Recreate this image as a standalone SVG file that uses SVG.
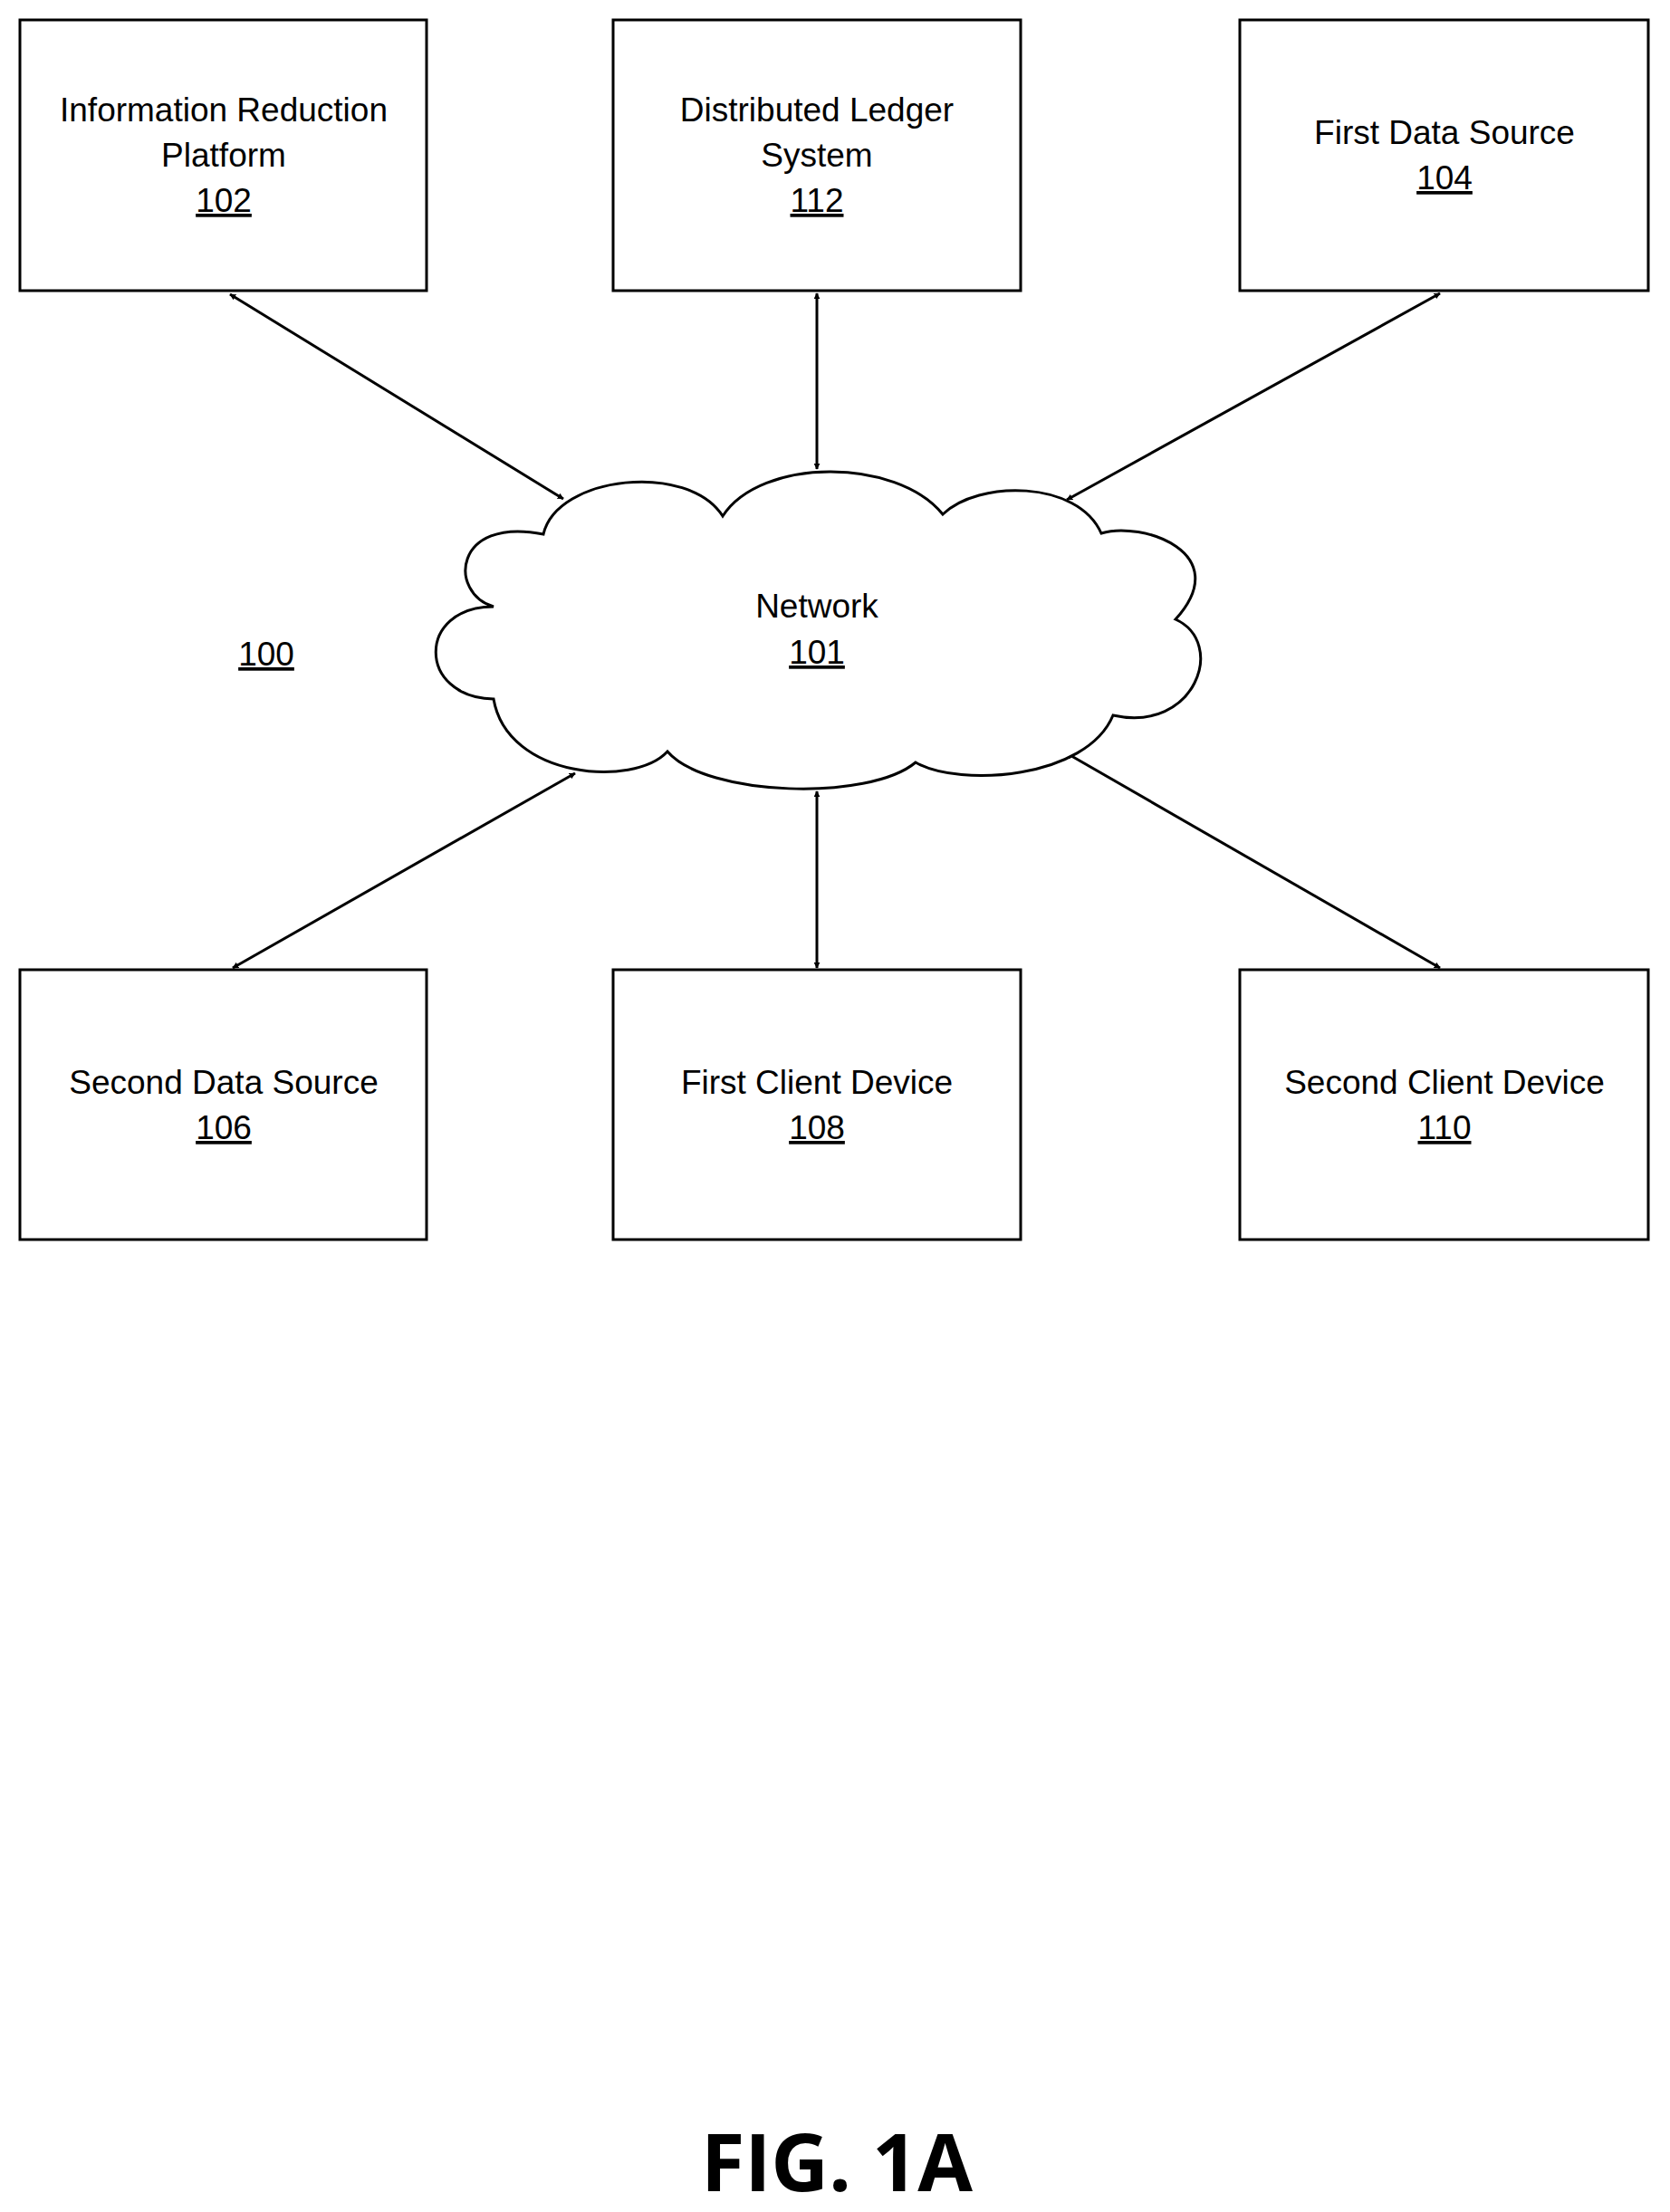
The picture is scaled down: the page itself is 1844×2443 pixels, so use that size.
<svg xmlns="http://www.w3.org/2000/svg" width="1844" height="2443" viewBox="0 0 1844 2443">
<style>
.box{fill:#fff;stroke:#000;stroke-width:3}
.t{font-family:"Liberation Sans",Arial,sans-serif;font-size:37px;text-anchor:middle;fill:#000}
.u{text-decoration:underline}
.c{stroke:#000;stroke-width:3;fill:none;marker-start:url(#a);marker-end:url(#a)}
</style>
<defs>
<marker id="a" viewBox="0 0 10 10" refX="9" refY="5" markerWidth="7" markerHeight="7" markerUnits="userSpaceOnUse" orient="auto-start-reverse">
<path d="M0,0 L10,5 L0,10 z" fill="#000"/>
</marker>
</defs>
<rect width="1844" height="2443" fill="#fff"/>
<g id="connectors">
<line class="c" x1="254" y1="325" x2="622" y2="551"/>
<line class="c" x1="902" y1="324" x2="902" y2="518"/>
<line class="c" x1="1590" y1="324" x2="1178" y2="552"/>
<line class="c" x1="257" y1="1069" x2="635" y2="854"/>
<line class="c" x1="902" y1="1069" x2="902" y2="874"/>
<line class="c" x1="1590" y1="1069" x2="1178" y2="832"/>
</g>
<g id="n102"><rect class="box" x="22" y="22" width="449" height="299"/>
<text class="t" x="247" y="134">Information Reduction</text><text class="t" x="247" y="184">Platform</text><text class="t u" x="247" y="234">102</text></g>
<g id="n112"><rect class="box" x="677" y="22" width="450" height="299"/>
<text class="t" x="902" y="134">Distributed Ledger</text><text class="t" x="902" y="184">System</text><text class="t u" x="902" y="234">112</text></g>
<g id="n104"><rect class="box" x="1369" y="22" width="451" height="299"/>
<text class="t" x="1595" y="159">First Data Source</text><text class="t u" x="1595" y="209">104</text></g>
<g id="n106"><rect class="box" x="22" y="1071" width="449" height="298"/>
<text class="t" x="247" y="1208">Second Data Source</text><text class="t u" x="247" y="1258">106</text></g>
<g id="n108"><rect class="box" x="677" y="1071" width="450" height="298"/>
<text class="t" x="902" y="1208">First Client Device</text><text class="t u" x="902" y="1258">108</text></g>
<g id="n110"><rect class="box" x="1369" y="1071" width="451" height="298"/>
<text class="t" x="1595" y="1208">Second Client Device</text><text class="t u" x="1595" y="1258">110</text></g>
<g id="n101">
<path class="box" d="M545,670 C495,655 500,570 600,590 C615,525 760,510 798,570 C840,505 990,505 1041,568 C1080,530 1190,530 1216,589 C1260,575 1365,610 1298,684 C1355,710 1320,810 1229,790 C1200,860 1060,870 1011,842 C960,885 780,880 737,830 C700,870 560,860 545,772 C460,770 460,670 545,670 Z"/>
<text class="t" x="902" y="682">Network</text><text class="t u" x="902" y="733">101</text></g>
<text class="t u" x="294" y="735">100</text>
<text x="924" y="2420" style="font-family:'Open Sans','Noto Sans',sans-serif;font-weight:bold;font-size:88px;text-anchor:middle">FIG. 1A</text>
</svg>
